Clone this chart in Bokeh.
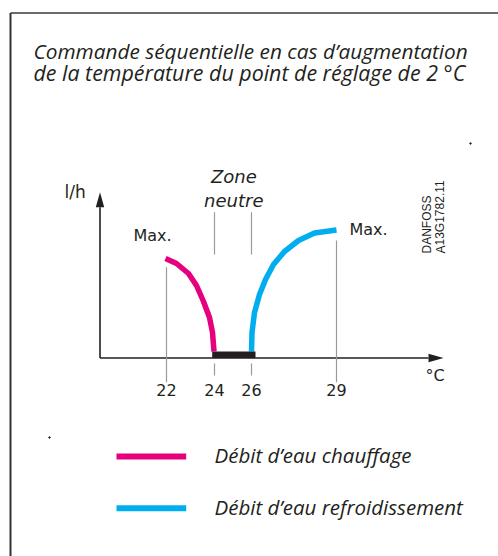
from bokeh.plotting import figure
from bokeh.models import Range1d
from bokeh.core.properties import value
from bokeh.embed import file_html
from bokeh.resources import INLINE

# ---- data (schematic diagram, positions) ----
tick_labels = ["22", "24", "26", "29"]
tick_pos = [166, 214, 251, 336]

heat_x = [165, 176, 188, 196, 203, 209, 212, 213.5]
heat_y = [298, 293, 283, 271, 255, 239, 224, 205]

cool_x = [251, 251.5, 254, 259, 265, 273, 284, 298, 314, 336]
cool_y = [205, 224, 244, 262, 277, 292, 305, 316, 323.5, 326.5]

neutral_zone = [211.7, 255]  # black bar between 24 and 26

title_lines = ["Commande séquentielle en cas d\u2019augmentation",
               "de la température du point de réglage de 2 °C"]
legend_labels = ["Débit d\u2019eau chauffage", "Débit d\u2019eau refroidissement"]

PINK = "#E6007E"
CYAN = "#00AEEF"
INK = "#231F20"
GREY = "#9a9a9a"

W, H = 498, 556
DY = 7  # text baseline correction

p = figure(width=W, height=H, x_range=Range1d(0, W), y_range=Range1d(0, H),
           min_border=0, toolbar_location=None, output_backend="svg",
           x_axis_location=None, y_axis_location=None)
p.grid.visible = False
p.outline_line_color = None
p.background_fill_color = "white"
p.border_fill_color = "white"

# frame border (top + left)
p.line([10, W], [543.5, 543.5], line_color="#6b6b6b", line_width=2)
p.line([10, 10], [0, 543.5], line_color="#333333", line_width=2)

# title
for i, t in enumerate(title_lines):
    p.text([33], [506 - 22 * i], text=[t], text_font=value("Open Sans"),
           text_font_style="italic", text_font_size=("20.8px" if i == 0 else "21.4px"),
           text_color=INK, text_baseline="alphabetic", text_align="left")

# axes
ax_x0, ax_y0 = 99.5, 198.5
ax_xend, ax_yend = 443, 364.3
head_len, head_half = 15, 4.2
p.line([ax_x0, ax_x0], [ax_y0, ax_yend - head_len], line_color=INK, line_width=1.6)
p.line([ax_x0, ax_xend - head_len], [ax_y0, ax_y0], line_color=INK, line_width=1.6)
p.patch([ax_x0 - head_half, ax_x0 + head_half, ax_x0],
        [ax_yend - head_len, ax_yend - head_len, ax_yend], color=INK, line_width=0)
p.patch([ax_xend - head_len, ax_xend - head_len, ax_xend],
        [ax_y0 - head_half, ax_y0 + head_half, ax_y0], color=INK, line_width=0)

# guide lines
p.segment(x0=[tick_pos[0]], y0=[289.3], x1=[tick_pos[0]], y1=[174.3], line_color=GREY, line_width=1.2)
p.segment(x0=[tick_pos[3]], y0=[316], x1=[tick_pos[3]], y1=[174.3], line_color=GREY, line_width=1.2)
for xp in tick_pos[1:3]:
    p.segment(x0=[xp], y0=[344.3], x1=[xp], y1=[302], line_color=GREY, line_width=1.2)
    p.segment(x0=[xp], y0=[193], x1=[xp], y1=[181], line_color=GREY, line_width=1.2)

# curves
p.line(heat_x, heat_y, line_color=PINK, line_width=5.5, line_join="round")
p.line(cool_x, cool_y, line_color=CYAN, line_width=5.5, line_join="round")
p.quad(left=[neutral_zone[0]], right=[neutral_zone[1]], bottom=[ax_y0], top=[205],
       fill_color=INK, line_color=None)

# tick labels
p.text(tick_pos, [160 + DY] * 4, text=tick_labels, text_font=value("DejaVu Sans"),
       text_font_size="16px", text_color=INK, text_align="center", text_baseline="alphabetic")

def label(x, y, t, size="16px", font="DejaVu Sans", style="normal", align="left"):
    p.text([x], [y + DY], text=[t], text_font=value(font), text_font_size=size,
           text_font_style=style, text_color=INK, text_align=align,
           text_baseline="alphabetic")

label(64, 357.7, "l/h", size="17px")
label(425, 174.3, "°C")
label(133, 314.3, "Max.")
label(349, 320, "Max.")
label(233.3, 372.7, "Zone", size="18px", style="italic", align="center")
label(233.3, 349, "neutre", size="18px", style="italic", align="center")

# DANFOSS reference
p.text([426.7, 440], [303, 303], text=["DANFOSS", "A13G1782.11"], angle=1.5708,
       text_font=value("Liberation Sans"), text_font_size="12px", text_color=INK,
       text_align="left", text_baseline="middle")

# specks
p.scatter([49, 470], [119, 413], size=1.5, color=INK)

# legend
for yy, col, t in zip([100, 48.3], [PINK, CYAN], legend_labels):
    p.line([116, 185.7], [yy, yy], line_color=col, line_width=6)
    p.text([214], [yy - 6.3 + DY + 1], text=[t], text_font=value("Open Sans"), text_font_style="italic",
           text_font_size="20.5px", text_color=INK, text_baseline="alphabetic")

open("out.html", "w").write(file_html(p, INLINE))
